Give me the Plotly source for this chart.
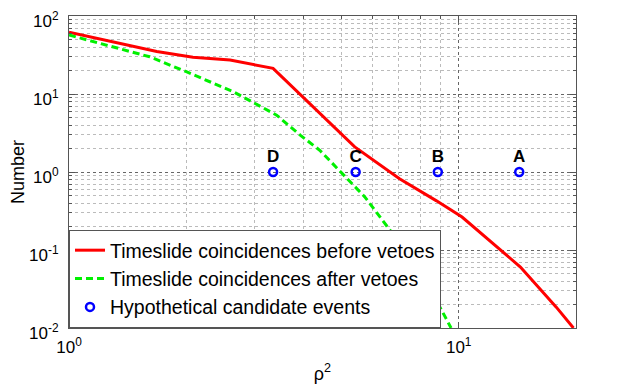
import plotly.graph_objects as go

# Timeslide coincidences before vetoes (red)
rho2_before = [1.0, 1.68, 2.08, 2.59, 3.34, 4.4, 5.41, 7.05, 8.75, 10.2, 12.7, 14.4, 17.8, 19.7]
num_before = [62, 35, 29.5, 27.2, 21.3, 5.6, 2.1, 0.82, 0.43, 0.265, 0.104, 0.0605, 0.0185, 0.01]

# Timeslide coincidences after vetoes (green dashed)
rho2_after = [1.0, 1.61, 2.0, 2.64, 3.41, 3.92, 4.4, 5.74, 6.92, 8.58, 9.56]
num_after = [57, 30, 19.3, 10.7, 5.36, 2.97, 1.9, 0.48, 0.14, 0.0275, 0.01]

# Hypothetical candidate events
cand_labels = ["D", "C", "B", "A"]
cand_rho2 = [3.34, 5.44, 8.84, 14.3]
cand_num = [1, 1, 1, 1]

y_tick_vals = [0.01, 0.1, 1, 10, 100]
y_tick_text = ["10<sup>-2</sup>", "10<sup>-1</sup>", "10<sup>0</sup>", "10<sup>1</sup>", "10<sup>2</sup>"]
x_tick_vals = [1, 10]
x_tick_text = ["10<sup>0</sup>", "10<sup>1</sup>"]

FONT = "Liberation Sans, Arial, Helvetica, sans-serif"

fig = go.Figure()
fig.add_trace(go.Scatter(
    x=rho2_before, y=num_before, mode="lines",
    name="Timeslide coincidences before vetoes",
    line=dict(color="#ff0000", width=3)))
fig.add_trace(go.Scatter(
    x=rho2_after, y=num_after, mode="lines",
    name="Timeslide coincidences after vetoes",
    line=dict(color="#00f000", width=3, dash="7px,4px")))
fig.add_trace(go.Scatter(
    x=cand_rho2, y=cand_num, mode="markers+text",
    name="Hypothetical candidate events",
    text=cand_labels, textposition="top center",
    textfont=dict(family=FONT, size=17, color="black", weight="bold"),
    marker=dict(symbol="circle-open", size=8, color="#0000ff",
                line=dict(width=2.5, color="#0000ff"))))

# minor grid positions: 2..9 in each decade
x_minor = [m * d for d in (1, 10) for m in range(2, 10) if m * d <= 20]
y_minor = [m * d for d in (0.01, 0.1, 1, 10) for m in range(2, 10)]

axis_common = dict(
    type="log", showline=True, linecolor="#555", linewidth=1, mirror="ticks",
    ticks="inside", ticklen=6, tickcolor="#555", automargin=False,
    ticklabeloverflow="allow",
    showgrid=True, gridcolor="#666", griddash="dot", gridwidth=1,
    zeroline=False, tickfont=dict(family=FONT, size=17, color="black"),
)

fig.update_xaxes(
    **axis_common, range=[0, 1.301],
    tickmode="array", tickvals=x_tick_vals, ticktext=x_tick_text,
    ticklabelstandoff=4,
    minor=dict(tickmode="array", tickvals=x_minor, showgrid=True,
               gridcolor="#bbb", griddash="dot", ticks="inside", ticklen=3,
               tickcolor="#555"),
    title=dict(text="ρ<sup>2</sup>", font=dict(family=FONT, size=18, color="black"),
               standoff=10),
)
fig.update_yaxes(
    **axis_common, range=[-2, 2],
    tickmode="array", tickvals=y_tick_vals, ticktext=y_tick_text,
    ticklabelstandoff=6, ticklabelshift=5,
    minor=dict(tickmode="array", tickvals=y_minor, showgrid=True,
               gridcolor="#bbb", griddash="dot", ticks="inside", ticklen=3,
               tickcolor="#555"),
    title=dict(text="Number", font=dict(family=FONT, size=18, color="black"),
               standoff=6),
)

# the page adds an 8px body margin, so the figure is drawn 8px smaller
fig.update_layout(
    width=615, height=383,
    margin=dict(l=61, r=47, t=8, b=63),
    paper_bgcolor="white", plot_bgcolor="white",
    font=dict(family=FONT, color="black"),
    legend=dict(x=0, y=0, xanchor="left", yanchor="bottom",
                bgcolor="white", bordercolor="#555", borderwidth=1,
                font=dict(family=FONT, size=19.5, color="black"),
                tracegroupgap=0, itemwidth=30),
)

fig.write_html("out.html")
